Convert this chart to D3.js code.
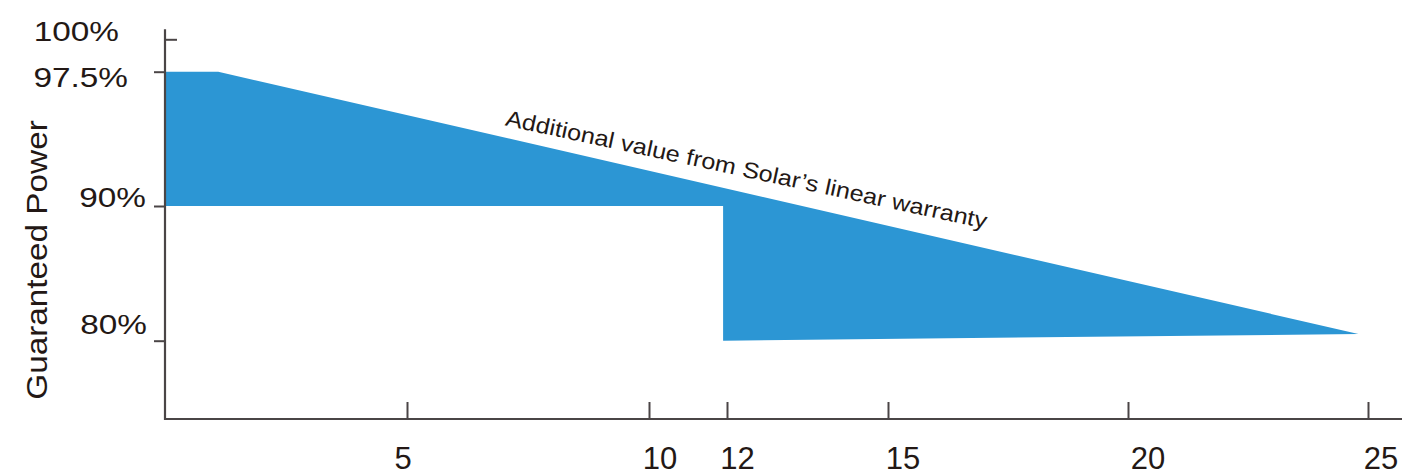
<!DOCTYPE html>
<html>
<head>
<meta charset="utf-8">
<script src="https://cdn.jsdelivr.net/npm/d3@7"></script>
<style>
  html, body { margin: 0; padding: 0; background: #ffffff; }
  svg { display: block; }
  text { font-family: "Liberation Sans", Arial, Helvetica, sans-serif; fill: #231815; }
</style>
</head>
<body>
<svg id="chart" width="1402" height="475"></svg>
<script>
// ---------- data ----------
const xTickValues = [5, 10, 12, 15, 20, 25];
const xTickLabels = ["5", "10", "12", "15", "20", "25"];
const yTickValues = [80, 90, 97.5, 100];
const yTickLabels = ["80%", "90%", "97.5%", "100%"];
// outline of the "additional value" area (year, guaranteed power %)
const areaYears = [0, 1.1, 24.8, 11.9, 11.9, 0];
const areaPower = [97.5, 97.5, 80.5, 80, 90, 90];
const yAxisTitle = "Guaranteed Power";
const annotationText = "Additional value from Solar\u2019s linear warranty";
const annotationYear = 7;

// ---------- layout (not data) ----------
const W = 1402, H = 475;
const axisX = 165, axisY = 419, axisTop = 29.3;
const blue = "#2c96d4", axisColor = "#4a4546";
// per-label nudges copied from the original layout
const xLabelShift = [-4, 11, 10.5, 15, 20, 13];
const yLabelOffset = [[-18, -6.5], [-19, 1], [-37, 15.5], [-46, 1.5]];

const svg = d3.select("#chart");

// piecewise scales (the original axis is not uniformly spaced)
const x = d3.scaleLinear()
  .domain([0, 10, 12, 15, 25])
  .range([axisX, 649, 727, 888, 1368]);
const y = d3.scaleLinear()
  .domain([74.2, 80, 90, 97.5, 100])
  .range([axisY, 340.7, 206, 71.7, 39.3]);

// ---------- area ----------
const pts = areaYears.map((d, i) => [x(d), y(areaPower[i])]);
svg.append("path")
  .attr("d", d3.line()(pts) + "Z")
  .attr("fill", blue);

// ---------- axes ----------
const gx = svg.append("g").attr("transform", `translate(0,${axisY})`)
  .call(d3.axisBottom(x).tickValues(xTickValues).tickSizeInner(-17).tickSizeOuter(0).tickFormat(""));
gx.select(".domain").remove();
gx.selectAll(".tick line").attr("stroke", axisColor).attr("stroke-width", 2);

const gy = svg.append("g").attr("transform", `translate(${axisX},0)`)
  .call(d3.axisLeft(y).tickValues(yTickValues).tickSizeInner(11).tickSizeOuter(0).tickFormat(""));
gy.select(".domain").remove();
gy.selectAll(".tick line").attr("stroke", axisColor).attr("stroke-width", 2)
  .attr("x2", d => d === 100 ? 12 : -11);

// axis lines
svg.append("line").attr("x1", axisX).attr("x2", W).attr("y1", axisY).attr("y2", axisY)
  .attr("stroke", axisColor).attr("stroke-width", 2.2);
svg.append("line").attr("x1", axisX).attr("x2", axisX).attr("y1", axisTop).attr("y2", axisY + 1)
  .attr("stroke", axisColor).attr("stroke-width", 2.2);

// x tick labels
svg.append("g").selectAll("text").data(xTickValues).join("text")
  .attr("x", (d, i) => x(d) + xLabelShift[i])
  .attr("y", 468.5)
  .attr("text-anchor", "middle")
  .attr("font-size", 31)
  .text((d, i) => xTickLabels[i]);

// y tick labels (horizontally wide face in the original)
svg.append("g").selectAll("text").data(yTickValues).join("text")
  .attr("transform", (d, i) => `translate(${axisX + yLabelOffset[i][0]},${y(d) + yLabelOffset[i][1]}) scale(1.17,1)`)
  .attr("text-anchor", "end")
  .attr("font-size", 28.5)
  .text((d, i) => yTickLabels[i]);

// y axis title
svg.append("text")
  .attr("transform", `translate(47,260) rotate(-90) scale(1.11,1)`)
  .attr("text-anchor", "middle")
  .attr("font-size", 30)
  .text(yAxisTitle);

// annotation along the sloped edge
const p1 = pts[1], p2 = pts[2];
const ang = Math.atan2(p2[1] - p1[1], p2[0] - p1[0]) * 180 / Math.PI - 0.8;
const t = (x(annotationYear) - p1[0]) / (p2[0] - p1[0]);
const ax = x(annotationYear) - 2, ay = p1[1] + t * (p2[1] - p1[1]);
svg.append("text")
  .attr("transform", `translate(${ax},${ay}) rotate(${ang}) translate(0,-12.5) scale(1.13,1)`)
  .attr("font-size", 22.3)
  .text(annotationText);
</script>
</body>
</html>
